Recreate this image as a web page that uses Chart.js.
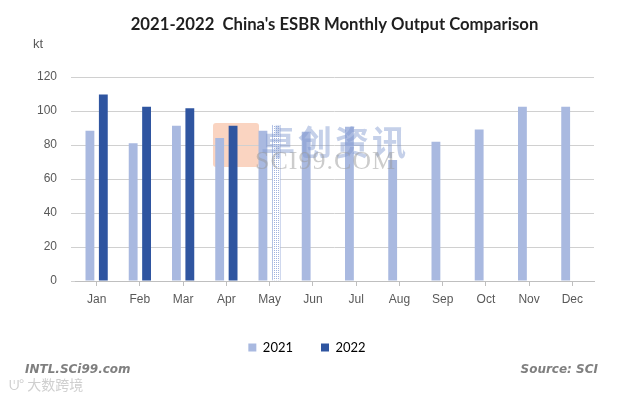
<!DOCTYPE html>
<html>
<head>
<meta charset="utf-8">
<script src="https://cdn.jsdelivr.net/npm/chart.js@4.4.0/dist/chart.umd.min.js"></script>
<style>
  html,body{margin:0;padding:0;background:#fff;}
  #wrap{position:relative;width:629px;height:396px;overflow:hidden;background:#fff;}
  canvas{position:absolute;left:0;top:0;}
  .ov{position:absolute;white-space:nowrap;}
</style>
</head>
<body>
<div id="wrap">
  <div class="ov" style="left:213px;top:123px;width:46px;height:44px;background:#F7B897;opacity:0.6;border-radius:3px;"></div>
  <canvas id="c" width="629" height="396"></canvas>
  <div class="ov" style="left:261px;top:116px;font:bold 34px 'Noto Sans CJK SC';color:#7E98CF;opacity:0.45;letter-spacing:3px;">卓创资讯</div>
  <div class="ov" style="left:255px;top:146px;font:26px 'Liberation Serif';color:#9a9a9a;opacity:0.5;letter-spacing:1px;">SCI99.COM</div>
  <div class="ov" style="left:33px;top:36px;font:13px 'Liberation Sans';color:#595959;">kt</div>
  <div class="ov" style="left:25px;top:362px;font:italic bold 12px 'DejaVu Sans';color:#7f7f7f;">INTL.SCi99.com</div>
  <div class="ov" style="right:31px;top:362px;font:italic bold 12px 'DejaVu Sans';color:#7f7f7f;">Source: SCI</div>
  <div class="ov" style="left:9px;top:374px;font:14px 'Noto Sans CJK SC';color:#cfcfcf;">ᕫ° 大数跨境</div>
</div>
<script>
const months = ['Jan','Feb','Mar','Apr','May','Jun','Jul','Aug','Sep','Oct','Nov','Dec'];
const output2021 = [88.4, 81.0, 91.4, 84.1, 88.4, 87.8, 90.7, 71.2, 81.9, 89.2, 102.5, 102.5];
const output2022 = [109.8, 102.5, 101.6, 91.4, 92.0, null, null, null, null, null, null, null];
const seriesLabels = ['2021', '2022'];
const yTicks = [0, 20, 40, 60, 80, 100, 120];

const c2021 = '#A9B9E0';
const c2022 = '#2F55A0';

// dotted pattern for the estimated (May 2022) bar
const pc = document.createElement('canvas');
pc.width = 2; pc.height = 2;
const px = pc.getContext('2d');
px.fillStyle = '#ffffff'; px.fillRect(0,0,2,2);
px.fillStyle = '#9FB2DE'; px.fillRect(0,0,1,1);
const pattern = px.createPattern(pc, 'repeat');

const colors2022 = output2022.map((v,i) => i === 4 ? pattern : c2022);
const borders2022 = output2022.map((v,i) => i === 4 ? '#A9B9E0' : c2022);
const bw2022 = output2022.map((v,i) => i === 4 ? {left:1,right:1,top:0,bottom:0} : 0);

const ctx = document.getElementById('c').getContext('2d');
new Chart(ctx, {
  type: 'bar',
  data: {
    labels: months,
    datasets: [
      {label: seriesLabels[0], data: output2021, backgroundColor: c2021, categoryPercentage: 0.62, barPercentage: 0.66},
      {label: seriesLabels[1], data: output2022, backgroundColor: colors2022, borderColor: borders2022, borderWidth: bw2022, borderSkipped: false, categoryPercentage: 0.62, barPercentage: 0.66}
    ]
  },
  options: {
    responsive: false,
    devicePixelRatio: 1,
    animation: false,
    layout: {padding: {left: 20, right: 35, top: 0, bottom: 32}},
    plugins: {
      title: {
        display: true,
        fullSize: false,
        text: "2021-2022  China's ESBR Monthly Output Comparison",
        font: {family: 'Lato', weight: 'bold', size: 16.7},
        color: '#1f1f1f',
        padding: {top: 15, bottom: 42}
      },
      legend: {
        position: 'bottom',
        labels: {
          boxWidth: 8, boxHeight: 8, padding: 28,
          font: {family: 'Lato', size: 13},
          color: '#333',
          generateLabels: (chart) => chart.data.datasets.map((d, i) => ({
            text: d.label, fillStyle: i === 0 ? c2021 : c2022, strokeStyle: 'transparent', lineWidth: 0, datasetIndex: i
          }))
        }
      },
      tooltip: {enabled: false}
    },
    scales: {
      x: {
        offset: true,
        grid: {display: true, drawOnChartArea: false, drawTicks: true, tickLength: 5, offset: false, color: '#BFBFBF'},
        border: {display: true, color: '#BFBFBF'},
        ticks: {font: {family: 'Liberation Sans', size: 12}, color: '#595959', padding: 6, maxRotation: 0},
        afterFit: (s) => { s.height = 32; }
      },
      y: {
        min: 0, max: 120,
        afterBuildTicks: (s) => { s.ticks = yTicks.map(v => ({value: v})); },
        grid: {color: '#D0D0D0', drawTicks: true, tickLength: 4},
        border: {display: false},
        ticks: {font: {family: 'Liberation Sans', size: 12}, color: '#595959', padding: 14},
        afterFit: (s) => { s.width = 55; }
      }
    }
  }
});
</script>
</body>
</html>
